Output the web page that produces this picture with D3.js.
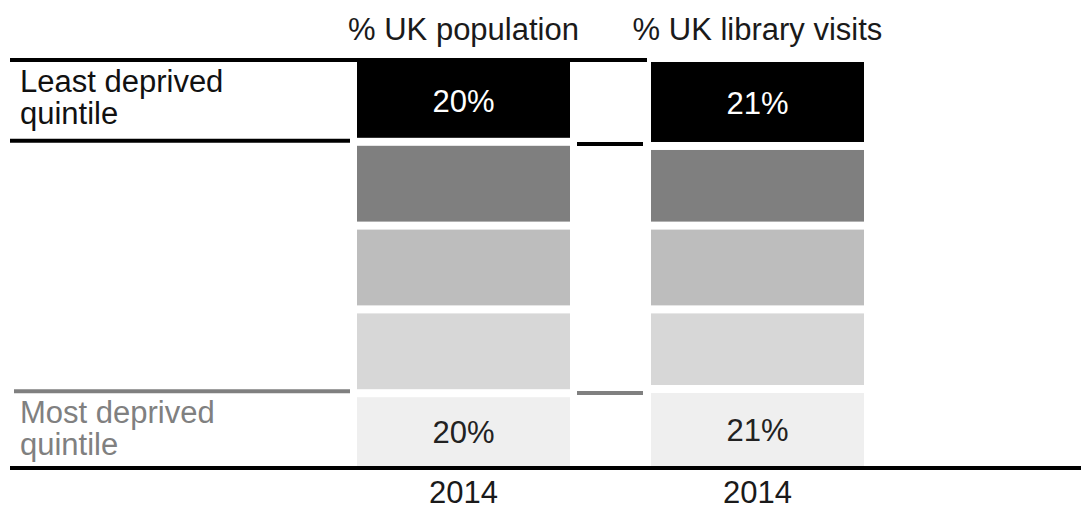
<!DOCTYPE html>
<html>
<head>
<meta charset="utf-8">
<script src="https://cdn.jsdelivr.net/npm/d3@7"></script>
<style>
  html, body { margin: 0; padding: 0; background: #fff; }
  svg { display: block; font-family: "Liberation Sans", Arial, Helvetica, sans-serif; }
</style>
</head>
<body>
<svg id="chart" width="1081" height="511"></svg>
<script>
// ---- data ----
const quintiles = ["Least deprived quintile", "Quintile 2", "Quintile 3", "Quintile 4", "Most deprived quintile"];
const seriesNames = ["% UK population", "% UK library visits"];
const populationShare = [20, 20, 20, 20, 20];
const libraryVisitsShare = [21, 19, 20, 19, 21];
const yearLabels = ["2014", "2014"];
const sideLabels = [["Least deprived", "quintile"], ["Most deprived", "quintile"]];
const shades = ["#000000", "#7f7f7f", "#bdbdbd", "#d7d7d7", "#efefef"];

// ---- layout ----
const W = 1081, H = 511;
const baseY = 468;
const gap = 8;
const FS = 31;
const svg = d3.select("#chart");

const x = d3.scaleBand().domain(seriesNames).range([357, 864]).paddingInner(0.2755).paddingOuter(0);
const y = d3.scaleLinear().domain([0, 100]).range([58, 477]);

const seriesData = [populationShare, libraryVisitsShare].map((vals, si) => {
  const cum = d3.cumsum(vals);
  return vals.map((v, i) => ({
    series: seriesNames[si], idx: i, value: v,
    y0: i === 0 ? 0 : cum[i - 1], y1: cum[i]
  }));
});

svg.append("defs").append("clipPath").attr("id", "plotClip")
  .append("rect").attr("x", 0).attr("y", 0).attr("width", W).attr("height", baseY - 2);

// bars
const bars = svg.append("g").attr("clip-path", "url(#plotClip)");
seriesData.forEach(segs => {
  bars.selectAll(null).data(segs).enter().append("rect")
    .attr("x", d => x(d.series))
    .attr("width", x.bandwidth())
    .attr("y", d => y(d.y0) + gap / 2)
    .attr("height", d => y(d.y1) - y(d.y0) - gap)
    .attr("fill", d => shades[d.idx]);
});

// value labels on first and last segments
seriesData.forEach(segs => {
  [segs[0], segs[segs.length - 1]].forEach(d => {
    const top = y(d.y0) + gap / 2;
    const bot = Math.min(y(d.y1) - gap / 2, baseY - 2);
    svg.append("text")
      .attr("x", x(d.series) + x.bandwidth() / 2)
      .attr("y", (top + bot) / 2)
      .attr("dy", "0.38em")
      .attr("text-anchor", "middle")
      .attr("font-size", FS)
      .attr("fill", d.idx === 0 ? "#ffffff" : "#222222")
      .text(d.value + "%");
  });
});

// series headers
seriesNames.forEach(s => {
  svg.append("text")
    .attr("x", x(s) + x.bandwidth() / 2)
    .attr("y", 40)
    .attr("text-anchor", "middle")
    .attr("font-size", FS)
    .attr("fill", "#1a1a1a")
    .text(s);
});

// year labels
seriesNames.forEach((s, i) => {
  svg.append("text")
    .attr("x", x(s) + x.bandwidth() / 2)
    .attr("y", 503)
    .attr("text-anchor", "middle")
    .attr("font-size", FS)
    .attr("fill", "#1a1a1a")
    .text(yearLabels[i]);
});

// bracket lines
const popX = x(seriesNames[0]), libX = x(seriesNames[1]);
const popEnd = popX + x.bandwidth();
const lastCumPop = d3.sum(populationShare.slice(0, 4));
const lastCumLib = d3.sum(libraryVisitsShare.slice(0, 4));
const firstPop = populationShare[0], firstLib = libraryVisitsShare[0];

// top line
svg.append("line").attr("x1", 10).attr("x2", libX - 4)
  .attr("y1", y(0) + 2).attr("y2", y(0) + 2)
  .attr("stroke", "#000").attr("stroke-width", 4);
// below top quintile
svg.append("line").attr("x1", 10).attr("x2", popX - 7)
  .attr("y1", y(firstPop) - 1).attr("y2", y(firstPop) - 1)
  .attr("stroke", "#000").attr("stroke-width", 4);
svg.append("line").attr("x1", popEnd + 7).attr("x2", libX - 8)
  .attr("y1", (y(firstPop) + y(firstLib)) / 2).attr("y2", (y(firstPop) + y(firstLib)) / 2)
  .attr("stroke", "#000").attr("stroke-width", 4);
// above bottom quintile
svg.append("line").attr("x1", 14).attr("x2", popX - 7)
  .attr("y1", y(lastCumPop) - 2).attr("y2", y(lastCumPop) - 2)
  .attr("stroke", "#808080").attr("stroke-width", 4);
svg.append("line").attr("x1", popEnd + 7).attr("x2", libX - 8)
  .attr("y1", (y(lastCumPop) + y(lastCumLib)) / 2 + 2).attr("y2", (y(lastCumPop) + y(lastCumLib)) / 2 + 2)
  .attr("stroke", "#808080").attr("stroke-width", 4);

// side labels
const topMid = (y(0) + y(firstPop)) / 2;
const botMid = (y(lastCumPop) + baseY) / 2;
[[sideLabels[0], topMid, "#111111"], [sideLabels[1], botMid, "#808080"]].forEach(([lines, mid, col]) => {
  lines.forEach((t, i) => {
    svg.append("text")
      .attr("x", 20)
      .attr("y", mid - 8 + i * 32)
      .attr("font-size", FS)
      .attr("fill", col)
      .text(t);
  });
});

// baseline axis
svg.append("line").attr("x1", 10).attr("x2", W)
  .attr("y1", baseY).attr("y2", baseY)
  .attr("stroke", "#000").attr("stroke-width", 4);
</script>
</body>
</html>
